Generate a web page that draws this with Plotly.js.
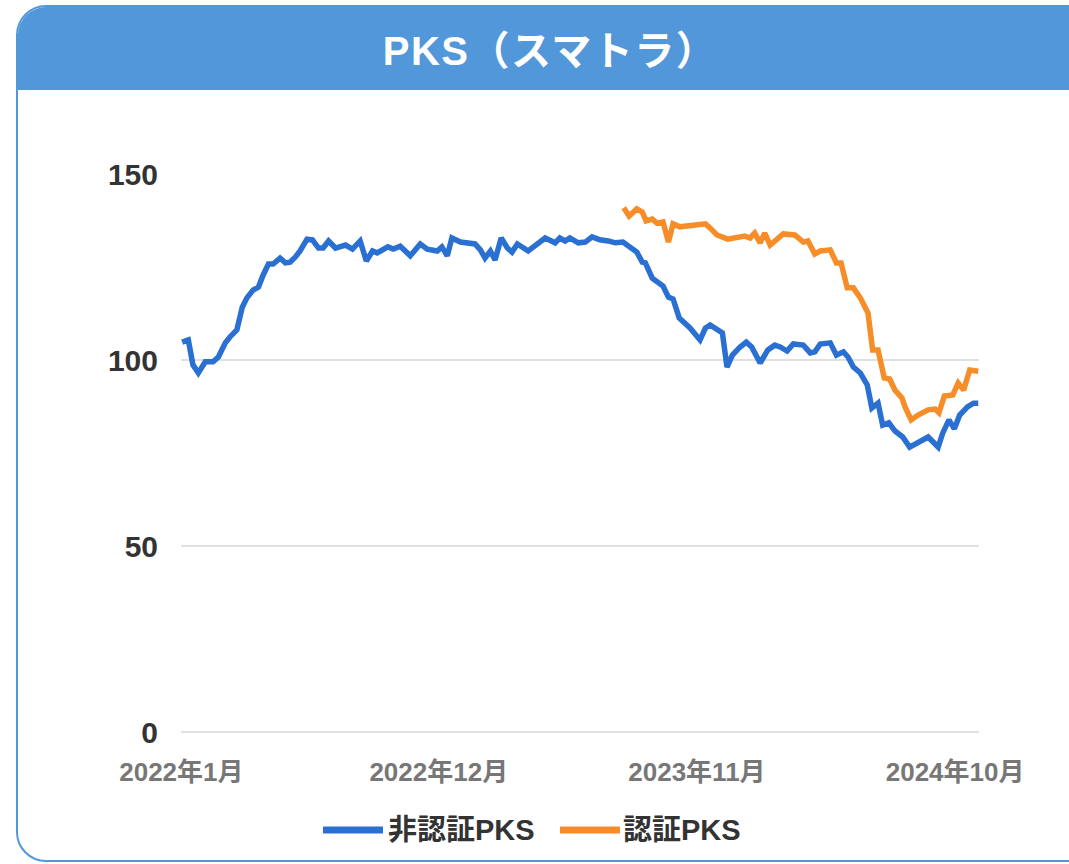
<!DOCTYPE html>
<html>
<head>
<meta charset="utf-8">
<script src="https://cdn.plot.ly/plotly-3.0.1.min.js"></script>
<style>
  html, body { margin:0; padding:0; width:1069px; height:864px; overflow:hidden; background:#ffffff; }
  #card { position:absolute; left:16px; top:5px; width:1090px; height:857px; border:2px solid #5197da;
          border-radius:30px; box-sizing:border-box; overflow:hidden; background:#fff; }
  #header { position:absolute; left:0; top:0; width:100%; height:83px; background:#5197da; }
  #title { position:absolute; left:7px; top:3px; width:1050px; text-align:center; line-height:83px;
           color:#fff; font-family:"Liberation Sans","Noto Sans CJK JP",Arial,sans-serif; font-weight:bold;
           font-size:40px; letter-spacing:1.5px; }
  #chart { position:absolute; left:0; top:0; width:1069px; height:864px; }
</style>
</head>
<body>
<div id="card"><div id="header"><div id="title">PKS（スマトラ）</div></div></div>
<div id="chart"></div>
<script>
const seriesNames = ['非認証PKS', '認証PKS'];
const seriesColors = ['#2a6fd2', '#f68d28'];
const tickDates = ['2022-01-01', '2022-12-01', '2023-11-01', '2024-10-01'];
const tickLabels = ['2022年1月', '2022年12月', '2023年11月', '2024年10月'];

const blueDates = [
'2022-01-02','2022-01-10','2022-01-16','2022-01-23','2022-02-01','2022-02-11','2022-02-18','2022-02-27','2022-03-05','2022-03-14',
'2022-03-21','2022-03-27','2022-04-04','2022-04-11','2022-04-17','2022-04-24','2022-04-30','2022-05-09','2022-05-16','2022-05-22',
'2022-05-29','2022-06-04','2022-06-13','2022-06-20','2022-06-28','2022-07-04','2022-07-11','2022-07-20','2022-08-02','2022-08-11',
'2022-08-21','2022-08-29','2022-09-06','2022-09-12','2022-09-26','2022-10-03','2022-10-12','2022-10-25','2022-11-07','2022-11-16',
'2022-11-29','2022-12-05','2022-12-12','2022-12-18','2022-12-29',
'2023-01-08','2023-01-17','2023-01-24','2023-01-30','2023-02-06','2023-02-12','2023-02-20','2023-02-28','2023-03-06','2023-03-13',
'2023-03-27','2023-04-05','2023-04-18','2023-05-01','2023-05-07','2023-05-14','2023-05-20','2023-05-31','2023-06-09','2023-06-18',
'2023-06-28','2023-07-09','2023-07-18','2023-07-28','2023-08-09','2023-08-15','2023-08-22','2023-08-26','2023-09-04','2023-09-12',
'2023-09-18','2023-09-25','2023-10-01','2023-10-09','2023-10-23','2023-11-05','2023-11-12','2023-11-18','2023-11-25','2023-12-04',
'2023-12-10','2023-12-17','2023-12-27',
'2024-01-04','2024-01-11','2024-01-22','2024-02-01','2024-02-10','2024-02-17','2024-02-26','2024-03-05','2024-03-18','2024-03-27',
'2024-04-02','2024-04-09','2024-04-22','2024-04-30','2024-05-09','2024-05-15','2024-05-22','2024-05-31','2024-06-09','2024-06-15',
'2024-06-23','2024-06-29','2024-07-07','2024-07-15','2024-07-25','2024-08-03','2024-08-14','2024-08-27','2024-09-09','2024-09-15',
'2024-09-23','2024-09-30','2024-10-07','2024-10-17','2024-10-25','2024-10-31'];
const blueValues = [
104.8,105.4,98.7,96.5,99.5,99.5,100.8,104.6,106.2,108.1,
114.2,116.7,118.8,119.6,122.8,125.8,125.8,127.4,126.1,126.3,
127.7,129.3,132.5,132.3,130.1,130.1,132.0,130.1,130.9,129.8,
132.0,126.6,129.3,128.8,130.4,129.8,130.6,128.0,131.2,129.8,
129.3,130.4,128.0,132.8,131.7,
131.5,131.2,129.6,127.4,129.3,126.9,132.8,130.1,129.0,131.2,
129.3,130.6,132.8,131.5,132.8,132.0,132.8,131.5,131.7,133.1,
132.3,132.0,131.5,131.7,129.6,129.0,126.3,126.1,122.0,121.0,
119.9,116.9,116.4,111.3,108.6,105.4,108.6,109.4,108.6,107.3,
98.1,101.3,103.5,
104.8,103.5,99.2,102.7,104.0,103.5,102.4,104.3,104.0,101.9,
102.2,104.3,104.6,101.3,102.2,100.8,98.1,96.5,93.3,87.1,
88.4,82.5,83.1,80.9,79.3,76.6,78.0,79.3,76.6,80.4,
83.9,81.5,85.2,87.4,88.4,88.4];

const orangeDates = [
'2023-07-29','2023-08-05','2023-08-15','2023-08-22','2023-08-27','2023-09-04','2023-09-10','2023-09-18','2023-09-25','2023-10-01',
'2023-10-10','2023-10-23','2023-11-12','2023-11-18','2023-11-27','2023-12-11','2023-12-23',
'2024-01-02','2024-01-09','2024-01-15','2024-01-22','2024-01-28','2024-02-04','2024-02-13','2024-02-21','2024-03-07','2024-03-14',
'2024-03-18','2024-03-24','2024-04-02','2024-04-09','2024-04-22','2024-04-30','2024-05-06','2024-05-14','2024-05-22','2024-05-31',
'2024-06-10','2024-06-16','2024-06-23','2024-07-01','2024-07-08','2024-07-15','2024-07-24','2024-07-28','2024-08-05','2024-08-14',
'2024-08-27','2024-09-05','2024-09-10','2024-09-17','2024-09-28','2024-10-05','2024-10-12','2024-10-20','2024-10-31'];
const orangeValues = [
140.9,138.7,140.6,139.8,137.4,137.9,136.8,137.1,131.7,136.6,
135.8,136.0,136.6,135.5,133.6,132.5,132.8,
133.3,132.8,134.1,131.5,134.1,130.9,132.5,133.9,133.6,132.3,
131.7,132.0,128.5,129.3,129.6,126.1,126.1,119.4,119.4,116.7,
112.6,102.7,102.7,95.2,94.9,91.9,89.8,87.4,83.9,85.2,
86.6,86.8,85.8,90.3,90.6,93.8,91.9,97.3,97.0];

const FONT = '"Liberation Sans","Noto Sans CJK JP",Arial,sans-serif';

const traces = [
  { x: blueDates, y: blueValues, name: seriesNames[0], type: 'scatter', mode: 'lines',
    line: { color: seriesColors[0], width: 5.5 } },
  { x: orangeDates, y: orangeValues, name: seriesNames[1], type: 'scatter', mode: 'lines',
    line: { color: seriesColors[1], width: 5.5 } }
];

// legend drawn as line swatches + text (paper coordinates)
const legendY = -0.1756;
const legendItems = [
  { x0: 0.1779, x1: 0.2531, tx: 0.2575 },
  { x0: 0.4749, x1: 0.5501, tx: 0.5520 }
];
const shapes = legendItems.map((it, i) => ({
  type: 'line', xref: 'paper', yref: 'paper', x0: it.x0, x1: it.x1, y0: legendY, y1: legendY,
  line: { color: seriesColors[i], width: 7 }
}));
const annotations = legendItems.map((it, i) => ({
  xref: 'paper', yref: 'paper', x: it.tx, y: legendY, xanchor: 'left', yanchor: 'middle',
  text: seriesNames[i], showarrow: false,
  font: { family: FONT, size: 29, color: '#333333', weight: 'bold' }
}));

const layout = {
  width: 1069, height: 864,
  margin: { l: 181, r: 90, t: 174, b: 132 },
  paper_bgcolor: 'rgba(0,0,0,0)', plot_bgcolor: 'rgba(0,0,0,0)',
  font: { family: FONT },
  xaxis: {
    type: 'date', range: ['2021-12-31 12:00', '2024-11-01'],
    tickmode: 'array', tickvals: tickDates, ticktext: tickLabels,
    showgrid: false, zeroline: false, showline: false, ticks: '',
    ticklabelstandoff: 22,
    tickfont: { family: FONT, size: 26, color: '#777777', weight: 'bold' }
  },
  yaxis: {
    range: [0, 150], tickvals: [0, 50, 100, 150],
    showgrid: true, gridcolor: '#e0e0e0', gridwidth: 2,
    zeroline: true, zerolinecolor: '#e0e0e0', zerolinewidth: 2,
    showline: false, ticks: '', ticklabelstandoff: 22,
    tickfont: { family: FONT, size: 30, color: '#333333', weight: 'bold' }
  },
  showlegend: false,
  shapes: shapes,
  annotations: annotations
};

Plotly.newPlot('chart', traces, layout, { displayModeBar: false, staticPlot: true });
</script>
</body>
</html>
